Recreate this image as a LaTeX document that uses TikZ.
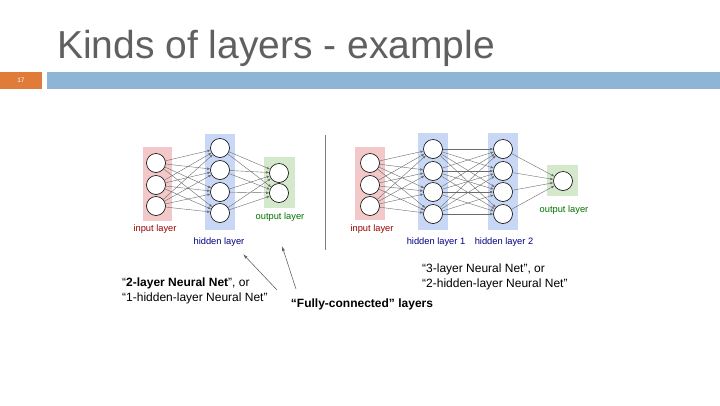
\documentclass[tikz,border=0pt]{standalone}
\usepackage{fontspec}
\setmainfont{Liberation Sans}
\usetikzlibrary{arrows.meta}
\begin{document}
\begin{tikzpicture}[x=1pt,y=-1pt,
  neuron/.style={circle,draw=black,fill=white,line width=0.6pt,minimum size=19pt,inner sep=0pt},
  conn/.style={draw=gray!85!black,line width=0.4pt,-{Latex[length=3pt,width=2.5pt]}},
  lbl/.style={font=\fontsize{9.3}{10}\selectfont,inner sep=0pt},
  captxt/.style={font=\fontsize{12}{15}\selectfont,inner sep=0pt,align=left,anchor=west},
  pointer/.style={draw=gray!80!black,line width=0.6pt,-{Latex[length=5pt,width=3pt]}}]
\useasboundingbox (0,0) rectangle (720,405);
\fill[white] (0,0) rectangle (720,405);
\definecolor{inred}{RGB}{242,200,200}
\definecolor{hidblue}{RGB}{200,215,245}
\definecolor{outgreen}{RGB}{212,232,204}
\definecolor{barorange}{RGB}{224,123,57}
\definecolor{barblue}{RGB}{142,180,214}
% header
\node[anchor=base west,inner sep=0pt,text=gray!75!black,font=\fontsize{39}{42}\selectfont] (title) at (57,58) {Kinds of layers - example};
\fill[barorange] (0,72) rectangle (42,89);
\fill[barblue] (47,72) rectangle (720,89);
\node[text=white,font=\fontsize{6.5}{7}\selectfont] (num) at (21,80.5) {17};
% left network bands
\fill[inred] (143,147) rectangle (172,221);
\fill[hidblue] (205,134) rectangle (235,230);
\fill[outgreen] (264,157) rectangle (295,208);
\foreach \i/\y in {1/163,2/185,3/206} \node[neuron] (a\i) at (156,\y) {};
\foreach \i/\y in {1/148,2/170,3/192,4/213} \node[neuron] (b\i) at (220,\y) {};
\foreach \i/\y in {1/173,2/193} \node[neuron] (c\i) at (279,\y) {};
\foreach \i in {1,2,3} \foreach \j in {1,...,4} \draw[conn] (a\i) -- (b\j);
\foreach \i in {1,...,4} \foreach \j in {1,2} \draw[conn] (b\i) -- (c\j);
\node[lbl,text=red!60!black] (li) at (155,229) {input layer};
\node[lbl,text=blue!50!black] (lh) at (219,242) {hidden layer};
\node[lbl,text=green!45!black] (lo) at (280,217) {output layer};
% separator
\draw[gray,line width=1pt] (325,135) -- (325,250);
% right network bands
\fill[inred] (355,147) rectangle (385,220);
\fill[hidblue] (418,133) rectangle (448,230);
\fill[hidblue] (488,133) rectangle (518,230);
\fill[outgreen] (547,165) rectangle (578,196);
\foreach \i/\y in {1/163,2/185,3/206} \node[neuron] (p\i) at (370,\y) {};
\foreach \i/\y in {1/149,2/171,3/192,4/214} \node[neuron] (q\i) at (433,\y) {};
\foreach \i/\y in {1/149,2/171,3/192,4/214} \node[neuron] (r\i) at (503,\y) {};
\node[neuron] (s1) at (563,181) {};
\foreach \i in {1,2,3} \foreach \j in {1,...,4} \draw[conn] (p\i) -- (q\j);
\foreach \i in {1,...,4} \foreach \j in {1,...,4} \draw[conn] (q\i) -- (r\j);
\foreach \i in {1,...,4} \draw[conn] (r\i) -- (s1);
\node[lbl,text=red!60!black] (ri) at (372,229) {input layer};
\node[lbl,text=blue!50!black] (rh1) at (436,242) {hidden layer 1};
\node[lbl,text=blue!50!black] (rh2) at (504,242) {hidden layer 2};
\node[lbl,text=green!45!black] (ro) at (564,210) {output layer};
% captions
\node[captxt] (t2) at (122,291) {“\textbf{2-layer Neural Net}”, or\\“1-hidden-layer Neural Net”};
\node[captxt] (t3) at (422,277) {“3-layer Neural Net”, or\\“2-hidden-layer Neural Net”};
\node[font=\fontsize{12}{14}\selectfont\bfseries,inner sep=0pt] (fc) at (362,304) {“Fully-connected” layers};
\coordinate (e1) at (243,254);
\coordinate (e2) at (282,246);
\coordinate (s1p) at (277,290);
\coordinate (s2p) at (296,289);
\draw[pointer] (s1p) -- (e1);
\draw[pointer] (s2p) -- (e2);
\end{tikzpicture}
\end{document}
